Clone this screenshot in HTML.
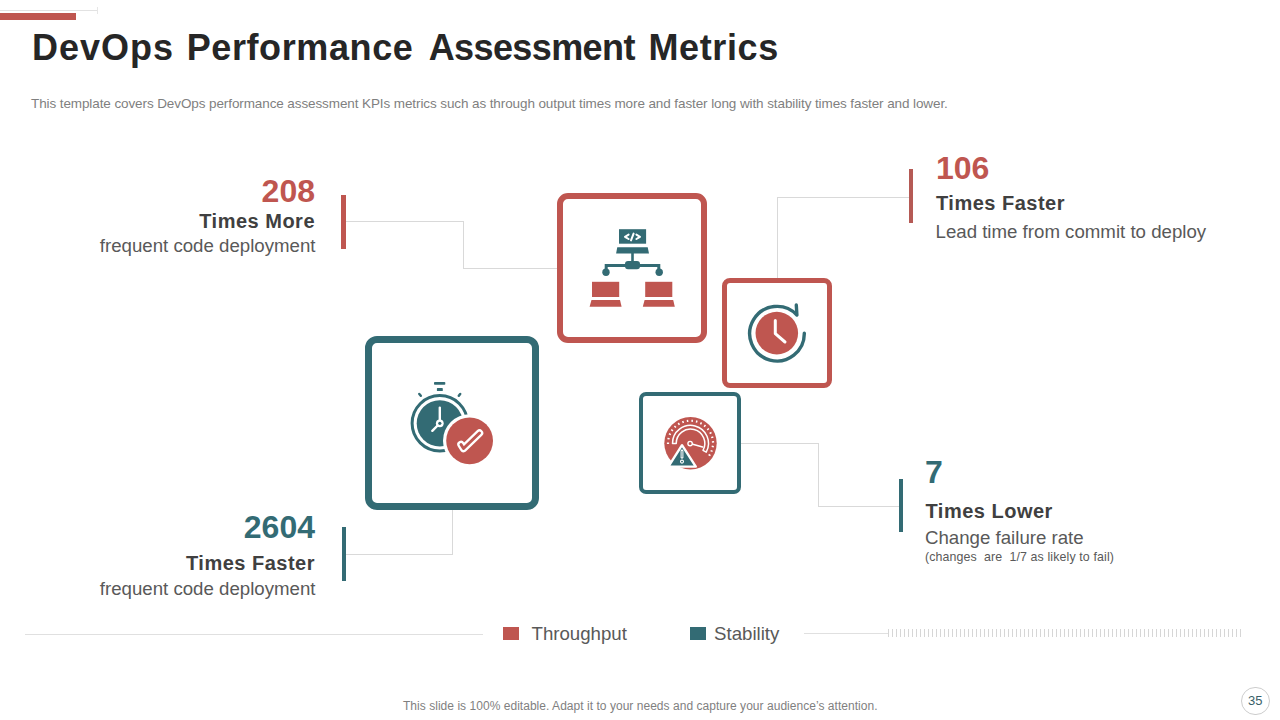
<!DOCTYPE html>
<html><head><meta charset="utf-8">
<style>
html,body{margin:0;padding:0;background:#fff;}
body{width:1280px;height:720px;position:relative;overflow:hidden;font-family:"Liberation Sans",sans-serif;}
.a{position:absolute;white-space:nowrap;}
.t{line-height:1;}
.r{text-align:right;}
.num{font-weight:700;font-size:32px;}
.hd{font-weight:700;font-size:20px;color:#404040;letter-spacing:0.5px;}
.sb{font-size:18.67px;color:#595959;}
.red{color:#bf5650;}
.teal{color:#336b74;}
.ln{position:absolute;background:#d9d9d9;}
.tt{top:29.8px;font-size:36px;font-weight:700;color:#262626;}
</style></head>
<body>
<!-- top decoration -->
<div class="a" style="left:0;top:10px;width:97px;height:1px;background:#e2e2e2"></div>
<div class="a" style="left:97px;top:7px;width:1px;height:7px;background:#e6e6e6"></div>
<div class="a" style="left:0;top:13px;width:76px;height:7px;background:#bf5650"></div>

<!-- title -->
<div class="a t tt" style="left:32px;letter-spacing:1px">DevOps</div>
<div class="a t tt" style="left:186.7px;letter-spacing:0.6px">Performance</div>
<div class="a t tt" style="left:428.7px;letter-spacing:-0.6px">Assessment</div>
<div class="a t tt" style="left:648.5px;letter-spacing:0.6px">Metrics</div>
<div class="a t" style="left:31px;top:97.3px;font-size:13.5px;color:#7f7f7f;white-space:pre;letter-spacing:-0.1px">This template covers DevOps performance assessment KPIs metrics such as through output times more and faster long with stability times faster and lower.</div>

<!-- connectors -->
<div class="ln" style="left:346px;top:221px;width:118px;height:1px"></div>
<div class="ln" style="left:463px;top:221px;width:1px;height:48px"></div>
<div class="ln" style="left:463px;top:268px;width:95px;height:1px"></div>

<div class="ln" style="left:777px;top:197px;width:1px;height:82px"></div>
<div class="ln" style="left:777px;top:197px;width:133px;height:1px"></div>

<div class="ln" style="left:452px;top:509px;width:1px;height:46px"></div>
<div class="ln" style="left:346px;top:554px;width:107px;height:1px"></div>

<div class="ln" style="left:741px;top:443px;width:78px;height:1px"></div>
<div class="ln" style="left:818px;top:443px;width:1px;height:64px"></div>
<div class="ln" style="left:818px;top:506px;width:82px;height:1px"></div>

<!-- bars -->
<div class="a" style="left:341px;top:195px;width:5px;height:54px;background:#bf5650"></div>
<div class="a" style="left:909px;top:169px;width:4px;height:54px;background:#b55a55"></div>
<div class="a" style="left:342px;top:527px;width:4px;height:54px;background:#336b74"></div>
<div class="a" style="left:899px;top:479px;width:4px;height:53px;background:#336b74"></div>

<!-- text blocks -->
<div class="a t r num red" style="right:965px;top:174.9px">208</div>
<div class="a t r hd" style="right:965px;top:210.6px">Times More</div>
<div class="a t r sb" style="right:964.5px;top:236.5px">frequent code deployment</div>

<div class="a t num red" style="left:936px;top:152px">106</div>
<div class="a t hd" style="left:936px;top:192.7px">Times Faster</div>
<div class="a t sb" style="left:935.5px;top:223px">Lead time from commit to deploy</div>

<div class="a t r num teal" style="right:965px;top:511.2px">2604</div>
<div class="a t r hd" style="right:965px;top:552.7px">Times Faster</div>
<div class="a t r sb" style="right:964.5px;top:580px">frequent code deployment</div>

<div class="a t num teal" style="left:925px;top:455.6px">7</div>
<div class="a t hd" style="left:925.5px;top:501px">Times Lower</div>
<div class="a t sb" style="left:925px;top:529.4px">Change failure rate</div>
<div class="a t" style="left:925px;top:551px;font-size:12.4px;color:#595959;white-space:pre;letter-spacing:0.12px">(changes  are  1/7 as likely to fail)</div>

<!-- boxes -->
<div class="a" style="left:557px;top:193px;width:150px;height:150px;box-sizing:border-box;border:6px solid #bf5650;border-radius:11px"></div>
<div class="a" style="left:722px;top:278px;width:110px;height:110px;box-sizing:border-box;border:5px solid #bf5650;border-radius:8px"></div>
<div class="a" style="left:365px;top:336px;width:174px;height:174px;box-sizing:border-box;border:7px solid #336b74;border-radius:12px"></div>
<div class="a" style="left:639px;top:392px;width:102px;height:102px;box-sizing:border-box;border:4px solid #336b74;border-radius:7px"></div>

<svg class="a" style="left:0;top:0" width="1280" height="720" viewBox="0 0 1280 720">
<!-- icon 1: network -->
<g fill="#336b74">
<rect x="619" y="229.2" width="27.1" height="14.5"/>
<path d="M617.3 247.2 L647.7 247.2 L649 253.6 L616.1 253.6 Z"/>
<rect x="631.2" y="253" width="2.6" height="9"/>
<rect x="625" y="260.9" width="15" height="8.4" rx="3"/>
<path d="M606.2 269 V265.5 H658.8 V269" fill="none" stroke="#336b74" stroke-width="3"/>
<circle cx="606" cy="272.2" r="3.7"/>
<circle cx="659.2" cy="272.2" r="3.7"/>
</g>
<g fill="none" stroke="#fff" stroke-width="2" stroke-linecap="round" stroke-linejoin="round">
<path d="M628.6 234.6 L625 236.8 L628.6 239"/>
<path d="M633.6 233.6 L631 240.4"/>
<path d="M636.4 234.6 L640 236.8 L636.4 239"/>
</g>
<g fill="#bf5650">
<rect x="592" y="281.8" width="27.2" height="15.2"/>
<path d="M591.5 299.9 L620 299.9 L621.6 306.8 L589.6 306.8 Z"/>
<rect x="645.2" y="281.8" width="27.1" height="15.2"/>
<path d="M644.6 299.9 L673.2 299.9 L674.8 306.8 L642.8 306.8 Z"/>
</g>

<!-- icon 2: clock with arrow -->
<path d="M804.3 333.2 A27.3 27.3 0 1 1 796.9 315 L796.3 305" fill="none" stroke="#336b74" stroke-width="3.4" stroke-linecap="round" stroke-linejoin="round"/>
<circle cx="776.8" cy="333.1" r="21.3" fill="#bf5650"/>
<path d="M775.3 320.6 V333.6 L785 342" fill="none" stroke="#fff" stroke-width="3" stroke-linecap="round" stroke-linejoin="round"/>

<!-- icon 3: stopwatch + check -->
<g fill="#336b74">
<rect x="434" y="382" width="11.3" height="2.8" rx="0.8"/>
<rect x="436.9" y="388.1" width="5.9" height="2.9" rx="0.6"/>
</g>
<g stroke="#336b74" stroke-width="2.5" stroke-linecap="round">
<path d="M419.3 394 L420.8 395.8"/>
<path d="M460.2 394 L458.8 395.8"/>
</g>
<circle cx="439.8" cy="423.3" r="27.7" fill="none" stroke="#336b74" stroke-width="3"/>
<circle cx="439.8" cy="423.3" r="23.1" fill="#336b74"/>
<path d="M439.8 407.6 V423.3 L432.3 430.8" fill="none" stroke="#fff" stroke-width="2.4" stroke-linecap="round"/>
<circle cx="439.8" cy="423.3" r="3.9" fill="#fff"/>
<circle cx="439.8" cy="423.3" r="1.6" fill="#336b74"/>
<circle cx="469.6" cy="440.8" r="26.6" fill="#fff"/>
<circle cx="469.6" cy="440.8" r="23.4" fill="#bf5650"/>
<path d="M461 444.5 L463.5 448.5 L479.5 433" fill="none" stroke="#fff" stroke-width="7.5" stroke-linecap="round" stroke-linejoin="round"/>
<path d="M461 444.5 L463.5 448.5 L479.5 433" fill="none" stroke="#bf5650" stroke-width="3" stroke-linecap="round" stroke-linejoin="round"/>

<!-- icon 4: gauge + warning -->
<circle cx="690.5" cy="443.2" r="26.2" fill="#bf5650"/>
<path d="M669.1 443.2L666.9 443.2M669.6 438.8L667.4 438.4M670.9 434.6L668.9 433.8M673.0 430.8L671.2 429.6M675.9 427.5L674.4 425.9M679.4 424.9L678.3 423.0M683.4 423.0L682.7 420.9M687.7 422.0L687.4 419.8M692.1 421.9L692.2 419.7M696.4 422.6L697.0 420.5M700.5 424.3L701.5 422.3M704.1 426.7L705.5 425.0M707.2 429.8L708.9 428.5M709.6 433.5L711.5 432.5M711.2 437.6L713.3 437.0M711.9 442.0L714.1 441.8M711.7 446.3L713.8 446.7M710.6 450.6L712.6 451.4M708.6 454.5L710.5 455.7" stroke="#fff" stroke-width="1.5"/>
<path d="M672.50 443.40 A18.0 18.0 0 1 1 706.24 452.13 L703.01 450.33 A14.3 14.3 0 1 0 676.20 443.40 Z" fill="#bf5650" stroke="#fff" stroke-width="1.5" stroke-linejoin="round"/>
<path d="M690.1 443.6 L702.6 447" stroke="#fff" stroke-width="1.6" stroke-linecap="round"/>
<circle cx="690.1" cy="443.6" r="2.2" fill="#bf5650" stroke="#fff" stroke-width="1.4"/>
<path d="M682 445.2 L668.4 466.6 L695.8 466.6 Z" fill="#336b74" stroke="#fff" stroke-width="2.4" stroke-linejoin="round"/>
<path d="M682 451 V457.3" stroke="#fff" stroke-width="2.8" stroke-linecap="round"/>
<path d="M682 451.3 V457" stroke="#336b74" stroke-width="0.8" stroke-linecap="round"/>
<circle cx="682" cy="461.6" r="1.5" fill="#336b74" stroke="#fff" stroke-width="1.1"/>
</svg>

<!-- legend -->
<div class="ln" style="left:25px;top:634px;width:458px;height:1px;background:#e0e0e0"></div>
<div class="a" style="left:503px;top:627px;width:16px;height:13px;background:#bf5650"></div>
<div class="a t sb" style="left:531.5px;top:624.9px">Throughput</div>
<div class="a" style="left:690px;top:627px;width:16px;height:13px;background:#336b74"></div>
<div class="a t sb" style="left:714px;top:624.9px">Stability</div>
<div class="ln" style="left:804px;top:633px;width:84px;height:1px;background:#e0e0e0"></div>
<div class="a" style="left:888px;top:629px;width:356px;height:8px;background:repeating-linear-gradient(90deg,#d6d6d6 0,#d6d6d6 1px,transparent 1px,transparent 4px)"></div>

<!-- footer -->
<div class="a t" style="left:403px;top:699.8px;font-size:12px;color:#7f7f7f;letter-spacing:0.035px">This slide is 100% editable. Adapt it to your needs and capture your audience’s attention.</div>
<div class="a" style="left:1241.2px;top:687px;width:26.4px;height:26.4px;border:1.2px solid #cdcdcd;border-radius:50%"></div>
<div class="a t" style="left:1248px;top:693.5px;font-size:13px;color:#3a5f69">35</div>

</body></html>
